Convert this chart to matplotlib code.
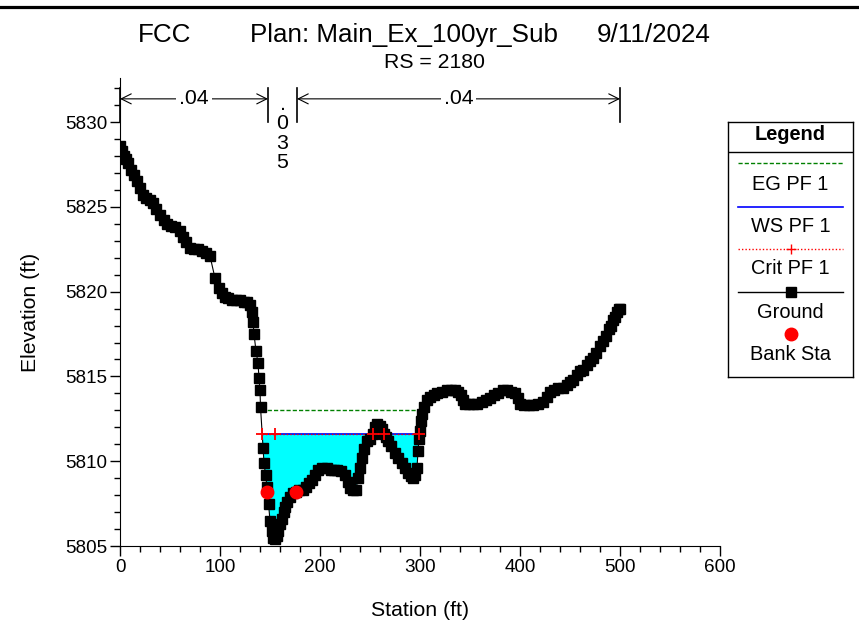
import numpy as np
import matplotlib
matplotlib.use("Agg")
import matplotlib.pyplot as plt
from matplotlib.lines import Line2D
from matplotlib import font_manager

# --- fuente: HEC-RAS usa Arial Narrow ---
nombres = {f.name for f in font_manager.fontManager.ttflist}
if "Liberation Sans Narrow" in nombres:
    FUENTE = "Liberation Sans Narrow"
    esc = 1.0
else:
    FUENTE = "Liberation Sans"
    esc = 0.85
plt.rcParams['font.family'] = [FUENTE, 'DejaVu Sans']

# ** Datos de la seccion transversal (RS = 2180) **
estacion = [0, 2, 4, 6, 8, 11, 14, 17, 20, 23, 26, 30, 33, 36, 40, 44, 47, 51, 55, 60,
            63, 66, 70, 74, 78, 82, 86, 90, 95, 99, 102, 105, 108, 112, 116, 120, 124, 127,
            130, 132, 133, 134, 136, 138, 139, 140, 140.5, 143, 144, 145.5, 147, 148.5, 150,
            151.5, 153, 155, 157, 158, 160, 162, 163.5, 165, 167, 170, 173, 176, 179, 183,
            186, 189, 192, 195, 198, 202, 207, 211, 214, 217, 221, 225, 228, 230, 233, 236,
            238, 240, 242, 244, 247, 250, 253, 255, 257, 260, 262, 264, 266, 268, 271, 275,
            278, 282, 285, 288, 291, 293, 295, 297, 298, 299, 300, 301, 302, 304, 307, 310,
            314, 317, 322, 327, 331, 335, 338, 341, 343, 345, 349, 353, 357, 362, 366, 370,
            374, 378, 383, 387, 391, 395, 398, 400, 404, 409, 413, 418, 423, 427, 430, 434,
            438, 443, 447, 450, 453, 457, 460, 463, 467, 470, 473, 476, 480, 483, 486, 489,
            491, 493, 495, 497, 499, 500]
elev_terreno = [5828.6, 5828.3, 5828.0, 5827.8, 5827.6, 5827.2, 5826.9, 5826.5, 5826.1, 5825.7,
                5825.5, 5825.4, 5825.2, 5824.9, 5824.5, 5824.2, 5824.0, 5823.9, 5823.8, 5823.6,
                5823.2, 5822.9, 5822.6, 5822.5, 5822.5, 5822.4, 5822.3, 5822.1, 5820.8, 5820.2,
                5819.9, 5819.7, 5819.6, 5819.5, 5819.5, 5819.5, 5819.4, 5819.4, 5819.2, 5818.8,
                5818.2, 5817.5, 5816.5, 5815.8, 5814.9, 5814.2, 5813.2, 5810.8, 5809.9, 5809.2,
                5808.5, 5807.5, 5806.5, 5805.9, 5805.5, 5805.4, 5805.6, 5805.9, 5806.3, 5806.6,
                5807.0, 5807.3, 5807.6, 5807.9, 5808.1, 5808.2, 5808.3, 5808.3, 5808.5, 5808.7,
                5808.9, 5809.2, 5809.5, 5809.6, 5809.6, 5809.5, 5809.5, 5809.5, 5809.4, 5809.2,
                5808.8, 5808.4, 5808.3, 5808.3, 5809.0, 5809.6, 5810.2, 5810.7, 5811.2, 5811.3,
                5811.6, 5812.0, 5812.2, 5812.1, 5811.9, 5811.6, 5811.4, 5811.2, 5810.9, 5810.5,
                5810.2, 5809.9, 5809.6, 5809.3, 5809.1, 5809.0, 5809.2, 5809.6, 5810.6, 5811.3,
                5811.8, 5812.4, 5812.8, 5813.2, 5813.6, 5813.8, 5813.9, 5814.0, 5814.1, 5814.2,
                5814.2, 5814.2, 5814.1, 5813.9, 5813.6, 5813.4, 5813.4, 5813.4, 5813.4, 5813.5,
                5813.6, 5813.7, 5813.9, 5814.0, 5814.2, 5814.2, 5814.1, 5814.0, 5813.7, 5813.4,
                5813.3, 5813.3, 5813.3, 5813.4, 5813.5, 5813.8, 5814.1, 5814.2, 5814.3, 5814.3,
                5814.5, 5814.7, 5814.8, 5815.1, 5815.3, 5815.4, 5815.7, 5815.9, 5816.1, 5816.4,
                5816.8, 5817.1, 5817.4, 5817.8, 5818.0, 5818.3, 5818.5, 5818.8, 5819.0, 5819.0]

ws_elev = 5811.63          # WS PF 1
ws_tramo = [141.7, 299.3]
eg_elev = 5813.0           # EG PF 1
eg_tramo = [140.7, 302.7]
crit_elev = 5811.63        # Crit PF 1
crit_est = [141.7, 155, 253, 264, 299]
banco_est = [146.7, 175.7]  # Bank Sta
banco_elev = [5808.2, 5808.2]

# valores de Manning
n_limites = [0, 148, 177, 500]
n_valores = ['.04', '.035', '.04']

W, H = 859, 626
fig = plt.figure(figsize=(W / 100, H / 100), dpi=100)

def px(x, y):
    return x / W, 1 - y / H

ax = fig.add_axes([120 / W, (H - 546) / H, 600 / W, (546 - 78) / H])

est = np.array(estacion)
ter = np.array(elev_terreno)

# relleno del agua
ax.fill_between(est, ter, ws_elev, where=ter < ws_elev, interpolate=True,
                color='#00FFFF', lw=0, zorder=1)
ax.plot(eg_tramo, [eg_elev] * 2, color='#008000', ls=(0, (3, 1.5)), lw=1, zorder=2)
ax.plot(ws_tramo, [ws_elev] * 2, color='blue', lw=1.2, zorder=2)
ax.plot(ws_tramo, [crit_elev] * 2, color='red', ls=(0, (1, 1.5)), lw=1, zorder=3)
ax.plot(est, ter, color='black', lw=0.8, marker='s', ms=7, zorder=4)
ax.plot(crit_est, [crit_elev] * len(crit_est), ls='none', marker='+', color='red',
        ms=9, mew=1.3, zorder=6)
ax.plot(banco_est, banco_elev, ls='none', marker='o', color='red', ms=9, zorder=5)

ax.set_xlim(0, 600)
ax.set_ylim(5805, 5832.6)
ax.set_xticks(range(0, 601, 100))
ax.set_xticks(range(0, 601, 20), minor=True)
ax.set_yticks(range(5805, 5831, 5))
ax.set_yticks(range(5805, 5833, 1), minor=True)
ax.tick_params(which='major', length=7, width=1, direction='out', labelsize=16 * esc, pad=2)
ax.tick_params(which='minor', length=4, width=1, direction='out')
for lado in ['top', 'right']:
    ax.spines[lado].set_visible(False)
ax.set_xlabel('Station (ft)', fontsize=18 * esc, labelpad=18)
ax.set_ylabel('Elevation (ft)', fontsize=18 * esc, labelpad=18)

# marcas de n de Manning
for xl in n_limites:
    ax.plot([xl, xl], [5830, 5832.0], color='black', lw=1.2, clip_on=False)
y_flecha = 5831.37
flechas = [(n_limites[0], n_limites[1]), (n_limites[2], n_limites[3])]
for (a, b), lab in zip(flechas, [n_valores[0], n_valores[2]]):
    ax.annotate('', xy=(a, y_flecha), xytext=(b, y_flecha),
                arrowprops=dict(arrowstyle='<->', color='black', lw=0.8,
                                shrinkA=0, shrinkB=0, mutation_scale=18),
                annotation_clip=False)
    ax.text((a + b) / 2, y_flecha, lab, ha='center', va='center', fontsize=18 * esc,
            bbox=dict(facecolor='white', edgecolor='none', pad=2), clip_on=False)
ax.text((n_limites[1] + n_limites[2]) / 2, 5829.33, '\n'.join(n_valores[1]), ha='center',
        va='center', fontsize=18 * esc, linespacing=1.02)

# titulo
fig.add_artist(Line2D([0, 1], [1 - 7 / H] * 2, color='black', lw=2.3))
fig.text(*px(138, 42), 'FCC', fontsize=22 * esc, va='baseline')
fig.text(*px(250, 42), 'Plan: Main_Ex_100yr_Sub', fontsize=22 * esc, va='baseline')
fig.text(*px(597, 42), '9/11/2024', fontsize=22 * esc, va='baseline')
fig.text(*px(434, 62), 'RS = 2180', fontsize=18 * esc, ha='center', va='center')

# leyenda
lg = fig.add_axes([728 / W, (H - 377) / H, 125 / W, 255 / H])
lg.set_xlim(728, 853)
lg.set_ylim(377, 122)
lg.set_xticks([])
lg.set_yticks([])
for s in lg.spines.values():
    s.set_linewidth(1)
lg.axhline(152, color='black', lw=1)
lg.text(790.5, 134, 'Legend', ha='center', va='center', fontsize=17 * esc, weight='bold')
x0, x1 = 738, 843
lg.plot([x0, x1], [163, 163], color='#008000', ls=(0, (3, 1.5)), lw=1)
lg.text(790.5, 185, 'EG PF 1', ha='center', va='center', fontsize=17 * esc)
lg.plot([x0, x1], [207, 207], color='blue', lw=1.2)
lg.text(790.5, 226, 'WS PF 1', ha='center', va='center', fontsize=17 * esc)
lg.plot([x0, x1], [249, 249], color='red', ls=(0, (1, 1.5)), lw=1)
lg.plot([790.5], [249], marker='+', color='red', ms=7, mew=1)
lg.text(790.5, 269, 'Crit PF 1', ha='center', va='center', fontsize=17 * esc)
lg.plot([x0, x1], [292, 292], color='black', lw=1)
lg.plot([790.5], [292], marker='s', color='black', ms=7)
lg.text(790.5, 312, 'Ground', ha='center', va='center', fontsize=17 * esc)
lg.plot([790.5], [334], marker='o', color='red', ms=9)
lg.text(790.5, 354, 'Bank Sta', ha='center', va='center', fontsize=17 * esc)

fig.savefig('out.png', dpi=100)
